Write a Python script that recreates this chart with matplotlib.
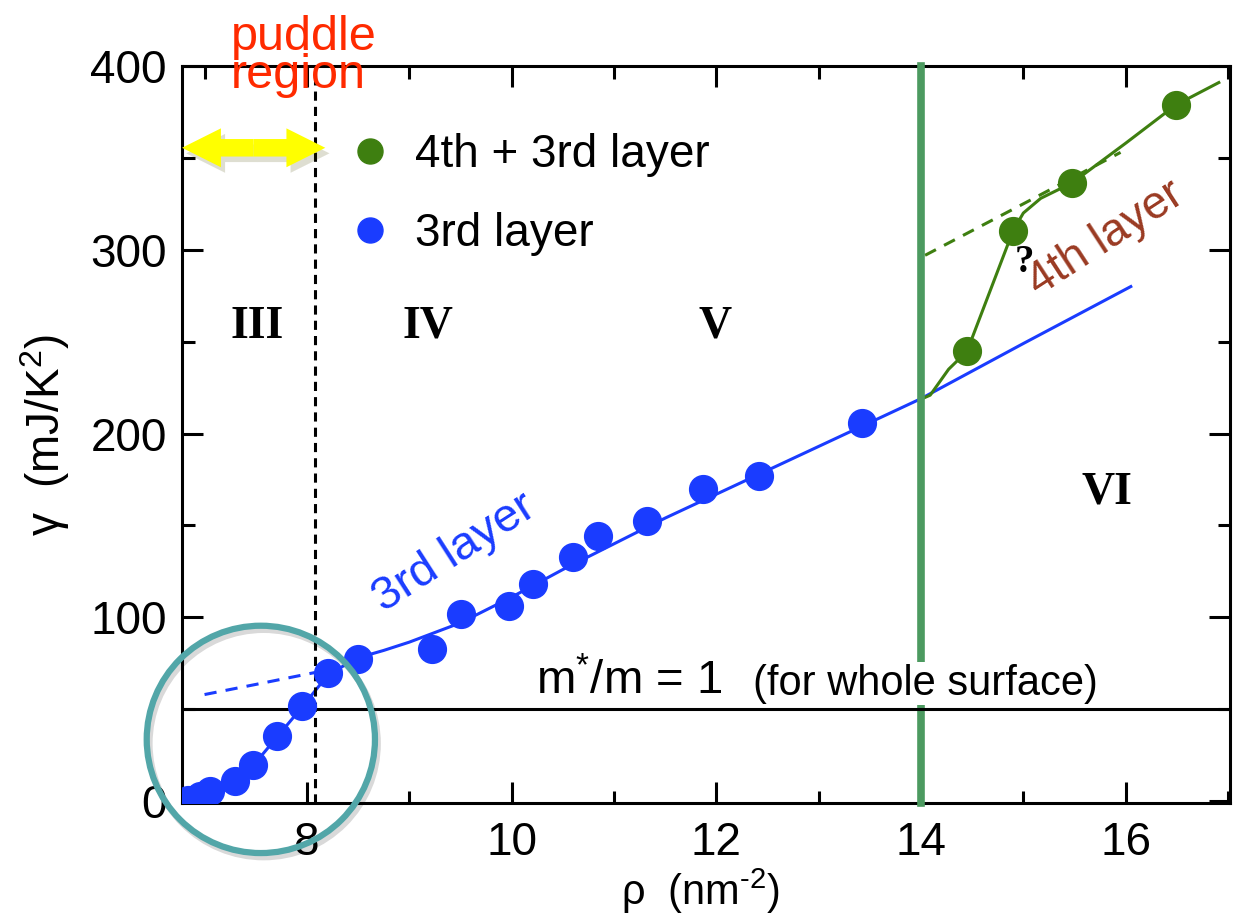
import matplotlib
matplotlib.use('Agg')
import matplotlib.pyplot as plt
import matplotlib.patches as mpatches
import matplotlib.patheffects as pe
from matplotlib.lines import Line2D
from matplotlib.ticker import MultipleLocator

plt.rcParams['font.family'] = ['Liberation Sans', 'DejaVu Sans']
plt.rcParams['mathtext.fontset'] = 'custom'
plt.rcParams['mathtext.rm'] = 'Liberation Sans'
plt.rcParams['mathtext.it'] = 'Liberation Sans'
plt.rcParams['mathtext.default'] = 'regular'

# measured specific heat coefficient vs areal density
rho_3rd = [6.84, 6.96, 7.05, 7.30, 7.47, 7.71, 7.95, 8.21, 8.50, 9.22, 9.51,
           9.97, 10.21, 10.60, 10.84, 11.32, 11.87, 12.42, 13.42]
gamma_3rd = [0.5, 2.7, 5.4, 10.9, 19.5, 35.3, 51.6, 69.5, 77.6, 83.0, 102,
             106, 118, 133, 144, 152.5, 170, 177, 206]

rho_4th = [14.45, 14.90, 15.48, 16.49]
gamma_4th = [244.8, 310.4, 336.5, 378.8]

# guide-to-the-eye curves
fit3_rho = [6.84, 7.05, 7.30, 7.47, 7.71, 7.95, 8.21, 8.50, 8.75, 9.0, 9.5, 10.0,
            10.5, 11.0, 11.5, 12.0, 12.5, 13.0, 13.5, 14.0, 15.0, 16.05]
fit3_gamma = [0.5, 4, 10, 19, 35, 51, 69, 78, 82, 86.5, 97, 111,
              126, 140, 154, 167, 180, 193, 206, 219, 249, 280]
ext3_rho = [7.0, 7.5, 8.08]
ext3_gamma = [58, 63.5, 70]

fit4_rho = [14.0, 14.09, 14.27, 14.45, 14.90, 15.0, 15.17, 15.48, 16.0, 16.49, 16.91]
fit4_gamma = [218.7, 220.9, 235, 244.8, 310.4, 320, 328, 336.5, 358, 378.8, 391]
ext4_rho = [14.04, 15.0, 15.95]
ext4_gamma = [297, 325, 353]

rho_puddle = 8.08
rho_4th_onset = 14.0
gamma_m1 = 50

blue = '#1a3cff'
green = '#3e7f10'
bar_green = '#4c9a60'

fig = plt.figure(figsize=(12.4, 9.18), dpi=100)
ax = fig.add_axes([0.1468, 0.1253, 0.8452, 0.8028])

ax.plot(fit3_rho, fit3_gamma, color=blue, lw=2.2, zorder=3)
ax.plot(ext3_rho, ext3_gamma, color=blue, lw=2.2, ls=(0, (4, 3)), zorder=3)
ax.plot(fit4_rho, fit4_gamma, color=green, lw=2.2, zorder=3)
ax.plot(ext4_rho, ext4_gamma, color=green, lw=2.2, ls=(0, (4, 3)), zorder=3)

ax.axvline(rho_4th_onset, color=bar_green, lw=5.5, zorder=4, clip_on=False)
ax.axhline(gamma_m1, color='black', lw=2.2, zorder=5)
ax.axvline(rho_puddle, color='black', lw=2.2, ls=(0, (3, 2)), zorder=5)

ax.plot(rho_3rd, gamma_3rd, 'o', color=blue, ms=20, zorder=6)
ax.plot(rho_4th, gamma_4th, 'o', color=green, ms=20, zorder=6)

# circle around the puddle-region points
circ = mpatches.Ellipse((7.55, 33.6), 2.23, 123.7, fill=False, ec='#52a6a8',
                        lw=4.5, zorder=7, clip_on=False,
                        path_effects=[pe.SimpleLineShadow(offset=(2, -3), alpha=0.15,
                                                          shadow_color='black'),
                                      pe.Normal()])
ax.add_patch(circ)

# puddle region double arrow
for x0, x1 in [(7.48, 6.78), (7.48, 8.18)]:
    arr = mpatches.FancyArrowPatch((x0, 355.5), (x1, 355.5),
                                   arrowstyle='simple,head_length=1.0,head_width=1.0,tail_width=0.45',
                                   mutation_scale=28, color='#ffff00', lw=0,
                                   zorder=8, clip_on=False, shrinkA=0, shrinkB=0,
                                   path_effects=[pe.SimplePatchShadow(offset=(3, -4), alpha=0.18),
                                                 pe.Normal()])
    ax.add_patch(arr)

ax.set_xlim(6.78, 17.02)
ax.set_ylim(-1, 400)
ax.xaxis.set_major_locator(MultipleLocator(2))
ax.xaxis.set_minor_locator(MultipleLocator(1))
ax.yaxis.set_major_locator(MultipleLocator(100))
ax.yaxis.set_minor_locator(MultipleLocator(50))
ax.tick_params(which='both', direction='in', top=True, right=True, width=2.2)
ax.tick_params(which='major', length=15, labelsize=33)
ax.tick_params(which='minor', length=9)
ax.tick_params(axis='x', pad=13)
ax.tick_params(axis='y', pad=11)
for s in ax.spines.values():
    s.set_linewidth(2.2)

ax.set_xlabel(r'ρ  (nm$^{\text{-2}}$)', fontsize=30)
ax.xaxis.set_label_coords(0.495, -0.087)
ax.set_ylabel(r'γ  (mJ/K$^{2}$)', fontsize=33)
ax.yaxis.set_label_coords(-0.105, 0.5)

handles = [Line2D([], [], marker='o', ls='none', color=green, ms=18),
           Line2D([], [], marker='o', ls='none', color=blue, ms=18)]
ax.legend(handles, ['4th + 3rd layer', '3rd layer'], loc='upper left',
          bbox_to_anchor=(0.162, 0.909), frameon=False, fontsize=33,
          handlelength=0.8, handletextpad=0.58, borderpad=0, borderaxespad=0,
          labelspacing=0.77)

serif = dict(family=['Liberation Serif', 'DejaVu Serif'], fontweight='bold',
             fontsize=33, ha='center', va='center', zorder=9)
ax.text(7.51, 258, 'III', **serif)
ax.text(9.18, 258, 'IV', **serif)
ax.text(11.99, 258, 'V', **serif)
ax.text(15.82, 168, 'VI', **serif)
ax.text(15.01, 293, '?', family=['Liberation Serif'], fontweight='bold',
        fontsize=28, ha='center', va='center', zorder=9)

ax.text(9.44, 135, '3rd layer', color=blue, fontsize=34, rotation=32.7,
        ha='center', va='center', rotation_mode='anchor', zorder=9)
ax.text(15.81, 306, '4th layer', color='#9a3a22', fontsize=33, rotation=33,
        ha='center', va='center', rotation_mode='anchor', zorder=9)

ax.text(10.24, 58, 'm$^{*}$/m = 1', fontsize=34, ha='left', va='baseline', zorder=9)
ax.text(12.36, 58, '(for whole surface)', fontsize=30, ha='left', va='baseline',
        zorder=9, bbox=dict(fc='white', ec='none', pad=1))

ax.text(7.26, 428, 'puddle\nregion', color='#ff2a00', fontsize=35,
        ha='left', va='top', linespacing=0.8, zorder=9, clip_on=False)

fig.savefig('out.png', dpi=100)
